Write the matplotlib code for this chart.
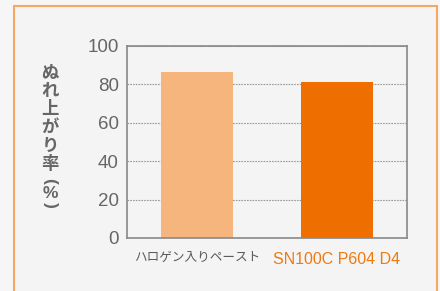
import matplotlib
matplotlib.use("Agg")
import matplotlib.pyplot as plt
from matplotlib.patches import Rectangle

# data
categories = ["ハロゲン入りペースト", "SN100C P604 D4"]
values = [86.5, 81.0]
bar_colors = ["#f6b57c", "#ee6e00"]
label_colors = ["#5a5a5a", "#ee7a10"]
yticks = [0, 20, 40, 60, 80, 100]
ylabel_chars = ["ぬ", "れ", "上", "が", "り", "率"]

plt.rcParams['font.family'] = ['Liberation Sans', 'Noto Sans CJK JP', 'DejaVu Sans']

fig = plt.figure(figsize=(4.4, 2.91), dpi=100)
fig.patch.set_facecolor("#f6f6f6")

# orange card frame
card = Rectangle((13.5 / 440, -0.1), (437 - 13.5) / 440, 1.1 - 5.5 / 291,
                 transform=fig.transFigure, facecolor="#f4f4f4",
                 edgecolor="#f5a764", linewidth=1.5, zorder=-10)
fig.patches.append(card)

ax = fig.add_axes([127 / 440, 1 - 238 / 291, 280 / 440, 192 / 291])
ax.set_facecolor("none")

x = range(len(categories))
ax.bar(x, values, width=0.51, color=bar_colors, zorder=2)

ax.set_xlim(-0.5, 1.5)
ax.set_ylim(0, 100)
ax.set_yticks(yticks)
ax.set_yticklabels([str(t) for t in yticks], fontsize=13.5, color="#666666")
ax.yaxis.grid(True, linestyle=(0, (1.5, 1.0)), color="#999999", linewidth=0.8, zorder=1)
ax.set_axisbelow(True)
ax.tick_params(axis="y", length=0, pad=6)
ax.tick_params(axis="x", length=0, pad=10)

ax.set_xticks(list(x))
ax.set_xticklabels(categories)
xl = ax.get_xticklabels()
for lbl, c in zip(xl, label_colors):
    lbl.set_color(c)
xl[0].set_fontsize(9.1)
xl[1].set_fontsize(11.5)

for sp in ax.spines.values():
    sp.set_color("#888888")
    sp.set_linewidth(1.2)

# vertical (tategaki) y label
cx = 50 / 440
for i, ch in enumerate(ylabel_chars):
    fig.text(cx, 1 - (72 + i * 18.4) / 291, ch, ha="center", va="center",
             fontsize=12.5, color="#666666", fontweight="bold",
             family=['Noto Sans CJK JP', 'DejaVu Sans'])
kw = dict(ha="center", va="center", color="#666666", fontweight="bold")
fig.text(cx, 1 - 181 / 291, "(", rotation=-90, fontsize=12.5, **kw)
fig.text(cx, 1 - 193 / 291, "%", fontsize=12.5, **kw)
fig.text(cx, 1 - 205 / 291, ")", rotation=-90, fontsize=12.5, **kw)

fig.savefig("out.png", dpi=100, facecolor=fig.get_facecolor())
